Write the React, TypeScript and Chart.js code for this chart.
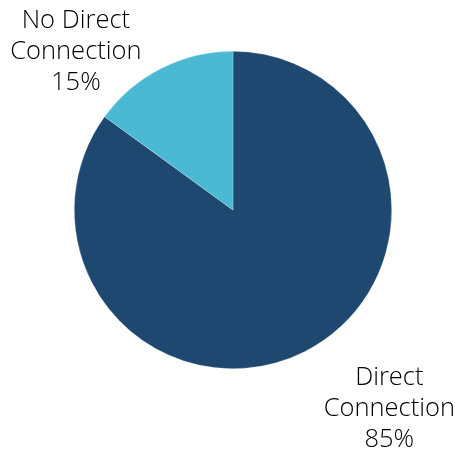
import React, { useEffect, useRef } from "react";
import { Chart, registerables } from "chart.js";

Chart.register(...registerables);

const categories = ["Direct Connection", "No Direct Connection"];
const labelLines = [["Direct", "Connection"], ["No Direct", "Connection"]];
const values = [85, 15];
const colors = ["#1F4870", "#4BB9D4"];

// label anchor offsets relative to pie centre, in units of radius (layout only)
const labelOffsets = [
  { x: 0.985, y: 1.295 },
  { x: -0.99, y: -0.95 },
];

const labelPlugin = {
  id: "outerLabels",
  afterDatasetsDraw(chart: any) {
    const ctx = chart.ctx;
    const meta = chart.getDatasetMeta(0);
    const total = values.reduce((a, b) => a + b, 0);
    ctx.save();
    ctx.font = "300 25.5px 'Open Sans'";
    ctx.fillStyle = "#000";
    ctx.textAlign = "center";
    ctx.textBaseline = "alphabetic";
    meta.data.forEach((arc: any, i: number) => {
      const r = arc.outerRadius;
      const cx = arc.x + labelOffsets[i].x * r;
      const cy = arc.y + labelOffsets[i].y * r;
      const pct = Math.round((values[i] / total) * 100) + "%";
      const lines = [...labelLines[i], pct];
      const lh = 31;
      lines.forEach((t, k) => {
        ctx.fillText(t, cx, cy + (k - 1) * lh);
      });
    });
    ctx.restore();
  },
};

export default function App() {
  const ref = useRef<HTMLCanvasElement | null>(null);
  useEffect(() => {
    document.body.style.margin = "0";
    if (!ref.current) return;
    const chart = new Chart(ref.current, {
      type: "pie",
      data: {
        labels: categories,
        datasets: [
          {
            data: values,
            backgroundColor: colors,
            borderColor: "rgba(255,255,255,0.4)",
            borderWidth: 0.6,
          },
        ],
      },
      options: {
        responsive: false,
        animation: false,
        layout: { padding: { left: 74, right: 67, top: 51, bottom: 86 } },
        plugins: {
          legend: { display: false },
          tooltip: { enabled: false },
        },
      },
      plugins: [labelPlugin],
    });
    return () => chart.destroy();
  }, []);
  return (
    <div style={{ width: 459, height: 455, background: "#fff" }}>
      <canvas ref={ref} width={459} height={455} style={{ display: "block" }} />
    </div>
  );
}
